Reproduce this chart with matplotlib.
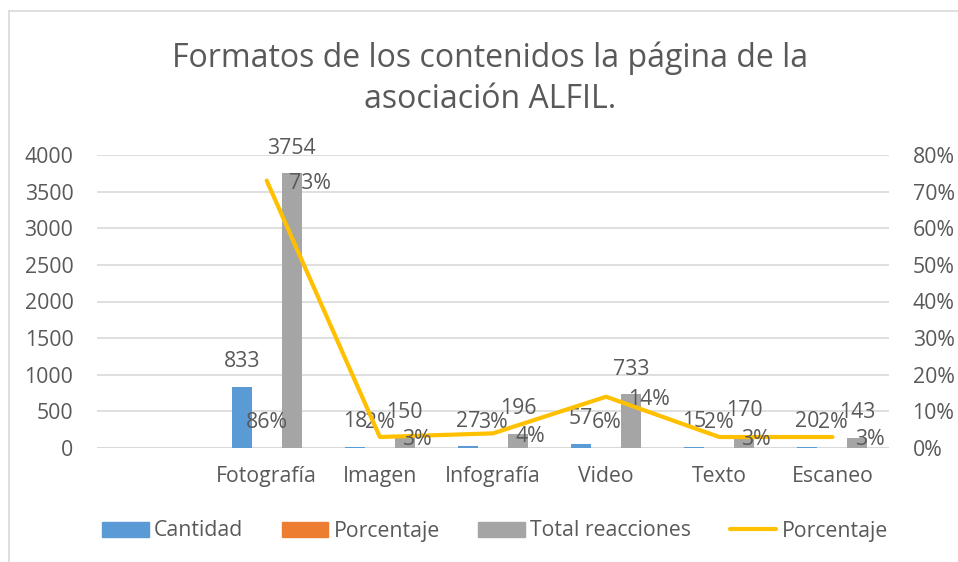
import matplotlib
matplotlib.use("Agg")
import matplotlib.pyplot as plt
import numpy as np
from matplotlib.lines import Line2D
from matplotlib.patches import Patch

plt.rcParams['font.family'] = ['Open Sans', 'DejaVu Sans']

categories = ["", "Fotografía", "Imagen", "Infografía", "Video", "Texto", "Escaneo"]
cantidad = [np.nan, 833, 18, 27, 57, 15, 20]
porcentaje_cant = [np.nan, 0.86, 0.02, 0.03, 0.06, 0.02, 0.02]
total_reacciones = [np.nan, 3754, 150, 196, 733, 170, 143]
porcentaje_reac = [np.nan, 0.73, 0.03, 0.04, 0.14, 0.03, 0.03]

C_BLUE = "#5B9BD5"
C_ORANGE = "#ED7D31"
C_GRAY = "#A5A5A5"
C_YELLOW = "#FFC000"
TXT = "#595959"
GRID = "#D9D9D9"

W, H = 958, 562
fig = plt.figure(figsize=(W / 100, H / 100), dpi=100)
ax = fig.add_axes([97 / W, (H - 448) / H, (889 - 97) / W, (448 - 155) / H])
ax2 = ax.twinx()

x = np.arange(len(categories))
bw = 0.177
off = 0.221

ax.bar(x - off, cantidad, bw, color=C_BLUE, zorder=2)
ax.bar(x, porcentaje_cant, bw, color=C_ORANGE, zorder=2)
ax.bar(x + off, total_reacciones, bw, color=C_GRAY, zorder=2)

ax.set_xlim(-0.5, len(categories) - 0.5)
ax.set_ylim(0, 4000)
ax.set_yticks(np.arange(0, 4001, 500))
ax.yaxis.grid(True, color=GRID, linewidth=1.2, zorder=0)
ax.set_axisbelow(True)
for s in ax.spines.values():
    s.set_visible(False)
for s in ax2.spines.values():
    s.set_visible(False)
ax.axhline(0, color=GRID, linewidth=1.5, zorder=1)

fs = 15.3
ax.set_xticks(x)
ax.set_xticklabels(categories, fontsize=fs, color=TXT)
ax.tick_params(axis='x', length=0, pad=13)
ax.tick_params(axis='y', length=0, pad=17, labelsize=fs, labelcolor=TXT)

ax2.plot(x, porcentaje_reac, color=C_YELLOW, linewidth=3, solid_capstyle='round',
         solid_joinstyle='round', zorder=3)
ax2.set_ylim(0, 0.8)
ax2.set_yticks(np.arange(0, 0.81, 0.1))
ax2.set_yticklabels([f"{int(round(v*100))}%" for v in np.arange(0, 0.81, 0.1)])
ax2.tick_params(axis='y', length=0, pad=17, labelsize=fs, labelcolor=TXT)

lab_kw = dict(textcoords='offset points', ha='center', va='center',
              fontsize=fs, color=TXT, zorder=5)
for i in range(len(categories)):
    if np.isnan(cantidad[i]):
        continue
    ax.annotate(f"{cantidad[i]:g}", (x[i] - off, cantidad[i]), xytext=(0, 18), **lab_kw)
    ax.annotate(f"{int(round(porcentaje_cant[i]*100))}%", (x[i], porcentaje_cant[i]),
                xytext=(0, 18), **lab_kw)
    ax.annotate(f"{total_reacciones[i]:g}", (x[i] + off, total_reacciones[i]),
                xytext=(0, 18), **lab_kw)
    ax2.annotate(f"{int(round(porcentaje_reac[i]*100))}%", (x[i], porcentaje_reac[i]),
                 xytext=(16, -2), textcoords='offset points', ha='left', va='center',
                 fontsize=fs, color=TXT, zorder=5)

fig.text(490 / W, 1 - 79 / H, "Formatos de los contenidos la página de la\nasociación ALFIL.",
         ha='center', va='center', fontsize=23, color=TXT, linespacing=1.3)

handles = [Patch(color=C_BLUE), Patch(color=C_ORANGE), Patch(color=C_GRAY),
           Line2D([0], [0], color=C_YELLOW, linewidth=3, solid_capstyle='round')]
labels = ["Cantidad", "Porcentaje", "Total reacciones", "Porcentaje"]
fig.legend(handles, labels, loc='center', bbox_to_anchor=(495 / W, 1 - 531 / H),
           ncol=4, frameon=False, fontsize=fs, labelcolor=TXT,
           handlelength=2.2, handleheight=0.7, handletextpad=0.25, columnspacing=1.8)

# chart border (top and left visible)
fig.add_artist(Line2D([9 / W, 9 / W], [0, 1 - 11 / H], transform=fig.transFigure,
                      color=GRID, linewidth=1.2))
fig.add_artist(Line2D([9 / W, 1], [1 - 11 / H, 1 - 11 / H], transform=fig.transFigure,
                      color=GRID, linewidth=1.2))

fig.savefig("out.png", dpi=100, facecolor="white")
